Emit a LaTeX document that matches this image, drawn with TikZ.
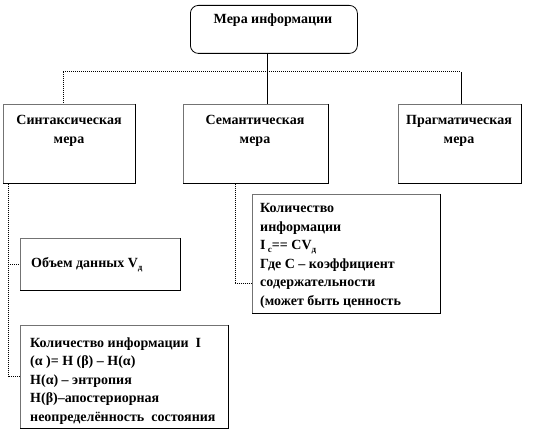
\documentclass[tikz,border=0pt]{standalone}
\usepackage{fontspec}
\setmainfont{Liberation Serif}
\usetikzlibrary{calc}
\begin{document}
\begin{tikzpicture}[x=1pt,y=-1pt,
  box/.style={draw=black!55, line width=0.6pt, inner sep=0pt, anchor=north west},
  shadowline/.style={line width=1pt, black},
  btxt/.style={font=\bfseries\fontsize{14}{18.5}\selectfont, inner sep=0pt, align=left, anchor=base west},
  ctxt/.style={font=\bfseries\fontsize{14}{18.5}\selectfont, inner sep=0pt, align=center, anchor=base},
  sub/.style={},
  conn/.style={line width=0.7pt, black},
  dconn/.style={line width=1pt, black, densely dotted}]
\useasboundingbox (0,0) rectangle (538,435);
% boxes
\node[draw=black, line width=0.8pt, rounded corners=8pt, inner sep=0pt, anchor=north west,
      minimum width=167pt, minimum height=48pt] (top) at (190,5) {};
\node[box, minimum width=132pt, minimum height=79pt] (syn) at (3,104) {};
\node[box, minimum width=145pt, minimum height=79pt] (sem) at (183,104) {};
\node[box, minimum width=123pt, minimum height=79pt] (prag) at (398,104) {};
\node[box, minimum width=160pt, minimum height=52pt] (vol) at (20,238) {};
\node[box, minimum width=188pt, minimum height=119pt] (semd) at (252,194) {};
\node[box, minimum width=208pt, minimum height=103pt] (qty) at (20,325) {};
% shadows
\foreach \b in {syn,sem,prag,vol,semd,qty}
  \draw[shadowline] (\b.north east) -- (\b.south east) -- (\b.south west);
% texts (anchor = baseline of last line)
\node[ctxt] (toptxt) at (273,24) {Мера информации};
\node[ctxt] (syntxt) at (69,143.5) {Синтаксическая\\мера};
\node[ctxt] (semtxt) at (255,143.5) {Семантическая\\мера};
\node[ctxt] (pragtxt) at (459,143.5) {Прагматическая\\мера};
\node[btxt] (voltxt) at (31,268) {Объем данных V\raisebox{-0.35ex}{\fontsize{9}{9}\selectfont д}};
\node[btxt] (semdtxt) at (260,305.5) {Количество\\информации\\I\,\raisebox{-0.35ex}{\fontsize{9}{9}\selectfont с}== CV\raisebox{-0.35ex}{\fontsize{9}{9}\selectfont д}\\Где С – коэффициент\\содержательности\\(может быть ценность};
\node[btxt] (qtytxt) at (30,421) {Количество информации~~I\\(α )= H (β) – H(α)\\H(α) – энтропия\\H(β)–апостериорная\\неопределённость~~состояния};
% connectors
\coordinate (bus) at (267,72);
\coordinate (bl) at (63,72);
\coordinate (br) at (461,72);
\draw[conn] (top.south -| bus) -- (sem.north -| bus);
\draw[dconn] (bl) -- (br);
\draw[dconn] (bl) -- (syn.north -| bl);
\draw[conn] (br) -- (prag.north -| br);
\coordinate (sl) at (8,0);
\draw[dconn] (syn.south -| sl) -- (qty.west -| sl) -- (qty.west);
\draw[dconn] (vol.west -| sl) -- (vol.west);
\coordinate (ml) at (235,284);
\draw[dconn] (sem.south -| ml) -- (ml) -- (semd.west |- ml);
\end{tikzpicture}
\end{document}
